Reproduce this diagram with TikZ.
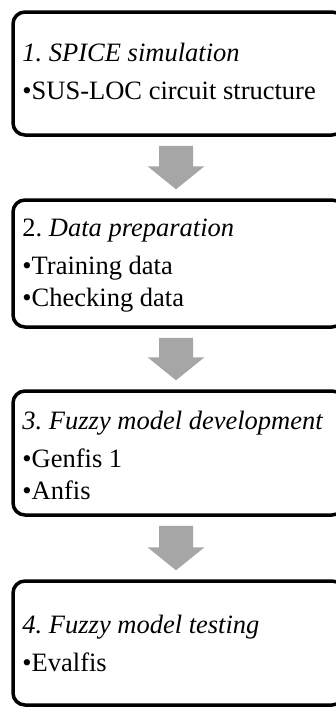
\documentclass[tikz,border=0pt]{standalone}
\usepackage{fontspec}
\setmainfont{Liberation Serif}
\usetikzlibrary{calc}
\frenchspacing

\definecolor{arrowgray}{HTML}{A6A6A6}

\tikzset{
  stagebox/.style={draw=black, line width=3.5pt, rounded corners=12pt,
    minimum width=331pt, inner sep=0pt},
  stagetext/.style={anchor=west, align=left, inner sep=0pt,
    font=\fontsize{26.5}{32}\selectfont},
}

% thick grey block arrow between two stage boxes
\newcommand{\blockarrow}[2]{%
  \fill[arrowgray]
    let \p1 = ($(#1.south)+(-2.5,-9)$), \p2 = ($(#2.north)+(-2.5,-0)$) in
    (\x1-17, \y1) -- (\x1+17, \y1) -- (\x1+17, \y2+32) -- (\x1+28.5, \y2+32)
    -- (\x1, \y2+9) -- (\x1-28.5, \y2+32) -- (\x1-17, \y2+32) -- cycle;
}

\begin{document}
\begin{tikzpicture}[x=1pt,y=1pt]
  \useasboundingbox (0,0) rectangle (335,-707);

  % stage frames
  \node[stagebox, minimum height=123pt] (s1) at (178.5,-73.5) {};
  \node[stagebox, minimum height=127pt] (s2) at (178.5,-263.5) {};
  \node[stagebox, minimum height=124pt] (s3) at (178.5,-453) {};
  \node[stagebox, minimum height=124pt] (s4) at (178.5,-643) {};

  % stage contents
  \node[stagetext] (t1) at ($(s1.west)+(11,2)$)
    {\textit{1. SPICE simulation}\\[6pt]\textbullet SUS-LOC circuit structure};
  \node[stagetext] (t2) at ($(s2.west)+(11,-2)$)
    {2. \textit{Data preparation}\\[6pt]\textbullet Training data\\\textbullet Checking data};
  \node[stagetext] (t3) at ($(s3.west)+(11,-2)$)
    {\textit{3. Fuzzy model development}\\[6pt]\textbullet Genfis 1\\\textbullet Anfis};
  \node[stagetext] (t4) at ($(s4.west)+(11,0)$)
    {\textit{4. Fuzzy model testing}\\[6pt]\textbullet Evalfis};

  \blockarrow{s1}{s2}
  \blockarrow{s2}{s3}
  \blockarrow{s3}{s4}
\end{tikzpicture}
\end{document}
